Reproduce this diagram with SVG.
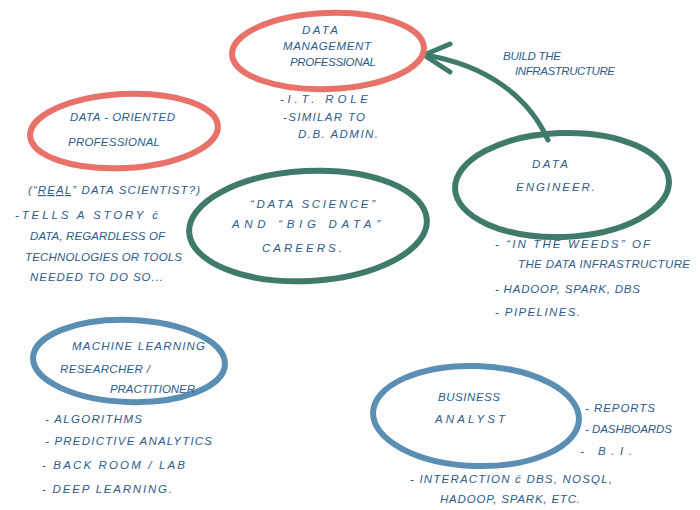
<svg xmlns="http://www.w3.org/2000/svg" width="700" height="510" viewBox="0 0 700 510">
<style>
.red{fill:none;stroke:#e8716a;stroke-width:6}
.grn{fill:none;stroke:#3f7a6b;stroke-width:6}
.blu{fill:none;stroke:#5a8fb3;stroke-width:6}
text{font-family:"Liberation Sans","DejaVu Sans",sans-serif;font-style:italic;font-size:11.5px;fill:#2f5d86}
</style>
<rect width="700" height="510" fill="#fdfdfd"/>
<g id="connectors">
<path d="M548,140 C530,100 490,65 424,55" fill="none" stroke="#3f7a6b" stroke-width="5" stroke-linecap="round"/>
<path d="M450,44 L424,55 L450,72" fill="none" stroke="#3f7a6b" stroke-width="5" stroke-linecap="round" stroke-linejoin="round"/>
<text x="503" y="60" textLength="58" lengthAdjust="spacing">BUILD THE</text>
<text x="515" y="75" textLength="100" lengthAdjust="spacing">INFRASTRUCTURE</text>
</g>
<g id="data-management">
<ellipse class="red" cx="328" cy="51" rx="96" ry="38" transform="rotate(-2 328 51)"/>
<text x="302" y="34" textLength="36" lengthAdjust="spacing">DATA</text>
<text x="283" y="50" textLength="88" lengthAdjust="spacing">MANAGEMENT</text>
<text x="290" y="66" textLength="86" lengthAdjust="spacing">PROFESSIONAL</text>
<text x="280" y="103" textLength="88" lengthAdjust="spacing">-I.T. ROLE</text>
<text x="283" y="121" textLength="82" lengthAdjust="spacing">-SIMILAR TO</text>
<text x="298" y="138" textLength="80" lengthAdjust="spacing">D.B. ADMIN.</text>
</g>
<g id="data-oriented">
<ellipse class="red" cx="124" cy="131" rx="94" ry="37" transform="rotate(-3 124 131)"/>
<text x="70" y="121" textLength="105" lengthAdjust="spacing">DATA - ORIENTED</text>
<text x="68" y="146" textLength="92" lengthAdjust="spacing">PROFESSIONAL</text>
<text x="28" y="194" textLength="172" lengthAdjust="spacing">(“<tspan text-decoration="underline">REAL</tspan>” DATA SCIENTIST?)</text>
<text x="15" y="219" textLength="143" lengthAdjust="spacing">-TELLS A STORY c̄</text>
<text x="30" y="240" textLength="135" lengthAdjust="spacing">DATA, REGARDLESS OF</text>
<text x="25" y="261" textLength="157" lengthAdjust="spacing">TECHNOLOGIES OR TOOLS</text>
<text x="30" y="281" textLength="133" lengthAdjust="spacing">NEEDED TO DO SO...</text>
</g>
<g id="data-science">
<ellipse class="grn" cx="308" cy="226" rx="119" ry="55" transform="rotate(-3 308 226)"/>
<text x="250" y="208" textLength="125" lengthAdjust="spacing">“DATA SCIENCE”</text>
<text x="232" y="228" textLength="148" lengthAdjust="spacing">AND “BIG DATA”</text>
<text x="262" y="252" textLength="80" lengthAdjust="spacing">CAREERS.</text>
</g>
<g id="data-engineer">
<ellipse class="grn" cx="562" cy="185" rx="107" ry="52" transform="rotate(-2 562 185)"/>
<text x="532" y="168" textLength="36" lengthAdjust="spacing">DATA</text>
<text x="516" y="191" textLength="79" lengthAdjust="spacing">ENGINEER.</text>
<text x="495" y="248" textLength="155" lengthAdjust="spacing">- “IN THE WEEDS” OF</text>
<text x="518" y="268" textLength="172" lengthAdjust="spacing">THE DATA INFRASTRUCTURE</text>
<text x="495" y="293" textLength="145" lengthAdjust="spacing">- HADOOP, SPARK, DBS</text>
<text x="495" y="316" textLength="85" lengthAdjust="spacing">- PIPELINES.</text>
</g>
<g id="ml-researcher">
<ellipse class="blu" cx="129" cy="361" rx="96" ry="41" transform="rotate(2 129 361)"/>
<text x="72" y="350" textLength="133" lengthAdjust="spacing">MACHINE LEARNING</text>
<text x="60" y="373" textLength="90" lengthAdjust="spacing">RESEARCHER /</text>
<text x="110" y="393" textLength="85" lengthAdjust="spacing">PRACTITIONER</text>
<text x="45" y="423" textLength="97" lengthAdjust="spacing">- ALGORITHMS</text>
<text x="45" y="445" textLength="167" lengthAdjust="spacing">- PREDICTIVE ANALYTICS</text>
<text x="42" y="469" textLength="143" lengthAdjust="spacing">- BACK ROOM / LAB</text>
<text x="42" y="493" textLength="130" lengthAdjust="spacing">- DEEP LEARNING.</text>
</g>
<g id="business-analyst">
<ellipse class="blu" cx="476" cy="416" rx="103" ry="50" transform="rotate(2 476 416)"/>
<text x="438" y="401" textLength="62" lengthAdjust="spacing">BUSINESS</text>
<text x="435" y="423" textLength="70" lengthAdjust="spacing">ANALYST</text>
<text x="585" y="412" textLength="70" lengthAdjust="spacing">- REPORTS</text>
<text x="585" y="433" textLength="87" lengthAdjust="spacing">- DASHBOARDS</text>
<text x="580" y="455" textLength="52" lengthAdjust="spacing">- B.I.</text>
<text x="410" y="483" textLength="202" lengthAdjust="spacing">- INTERACTION c̄ DBS, NOSQL,</text>
<text x="440" y="503" textLength="140" lengthAdjust="spacing">HADOOP, SPARK, ETC.</text>
</g>
</svg>
